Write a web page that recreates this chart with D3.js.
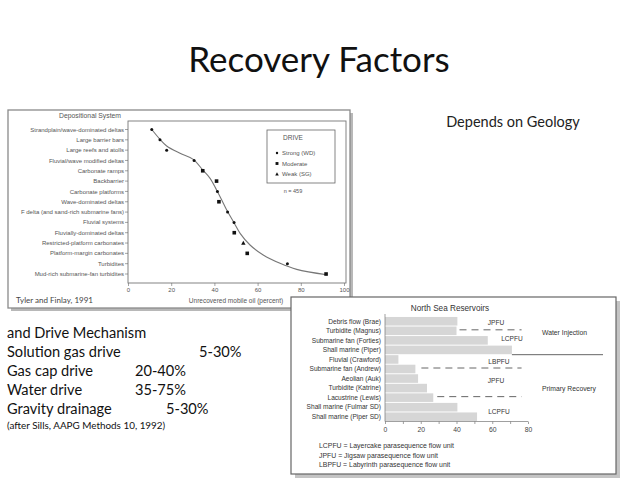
<!DOCTYPE html>
<html><head><meta charset="utf-8">
<script src="https://cdn.jsdelivr.net/npm/d3@7"></script>
<style>body{margin:0;background:#fff}svg{display:block}</style>
</head><body>
<svg id="c" width="640" height="480"></svg>
<script>
// ---------- data ----------
const depoSystems = ["Strandplain/wave-dominated deltas","Large barrier bars","Large reefs and atolls","Fluvial/wave modified deltas","Carbonate ramps","Backbarrier","Carbonate platforms","Wave-dominated deltas","F delta (and sand-rich submarine fans)","Fluvial systems","Fluvially-dominated deltas","Restricted-platform carbonates","Platform-margin carbonates","Turbidites","Mud-rich submarine-fan turbidites"];
const unrecovered = [11.0, 14.8, 17.9, 30.6, 34.6, 41.0, 41.4, 42.1, 46.1, 49.1, 49.2, 53.4, 55.2, 73.8, 91.7];
const driveType = ["Strong","Strong","Strong","Strong","Moderate","Moderate","Strong","Moderate","Strong","Strong","Moderate","Weak","Moderate","Strong","Moderate"];
const trendX = [11.0, 14.8, 17.9, 24.1, 30.2, 34.6, 38.0, 41.0, 43.4, 45.7, 48.8, 51.9, 56.5, 62.6, 70.4, 78.1, 92.0];
const trendY = [0, 0.95, 1.6, 2.31, 2.89, 3.92, 4.73, 5.86, 6.83, 7.8, 8.93, 10.06, 11.19, 12.16, 12.97, 13.55, 14.07];
const xTicksLeft = [0, 20, 40, 60, 80, 100];
const legendLabels = ["Strong (WD)", "Moderate", "Weak (SG)"];
const legendTypes = ["Strong", "Moderate", "Weak"];

const reservoirs = ["Debris flow (Brae)","Turbidite (Magnus)","Submarine fan (Forties)","Shall marine (Piper)","Fluvial (Crawford)","Submarine fan (Andrew)","Aeolian (Auk)","Turbidite (Katrine)","Lacustrine  (Lewis)","Shall marine (Fulmar SD)","Shall marine (Piper SD)"];
const recovery = [40.5, 40, 57.5, 71, 7.5, 17, 18.5, 23.5, 27, 40.5, 51.5];
const xTicksRight = [0, 20, 40, 60, 80];
const flowUnits = ["JPFU","LCPFU","LBPFU","JPFU","LCPFU"];
const recoveryGroups = ["Water Injection","Primary Recovery"];
const footnotes = ["LCPFU = Layercake parasequence flow unit","JPFU = Jigsaw parasequence flow unit","LBPFU = Labyrinth parasequence flow unit"];

const driveNames = ["and Drive Mechanism","Solution gas drive","Gas cap drive","Water drive","Gravity drainage"];
const driveRanges = ["","5-30%","20-40%","35-75%","5-30%"];

// ---------- drawing ----------
const svg = d3.select("#c");
const SANS = "'Liberation Sans', Arial, sans-serif";
const HUM = "Lato, 'Open Sans', sans-serif";

svg.append("text").attr("x", 319).attr("y", 72).attr("text-anchor","middle")
  .attr("font-family", HUM).attr("font-size", 35).attr("fill","#111").text("Recovery Factors");
svg.append("text").attr("x", 513).attr("y", 127).attr("text-anchor","middle")
  .attr("font-family", HUM).attr("font-size", 14.5).attr("fill","#222").text("Depends on Geology");

// ----- left panel -----
const L = svg.append("g");
L.append("rect").attr("x", 11).attr("y", 113).attr("width", 342).attr("height", 198).attr("fill","#b8b8b8");
L.append("rect").attr("x", 8).attr("y", 110).attr("width", 342).attr("height", 198).attr("fill","#fff")
  .attr("stroke","#8a8a8a").attr("stroke-width",1.3);

const xL = d3.scaleLinear().domain([0,100]).range([128,344]);
const yL = d3.scaleLinear().domain([0,14]).range([129.5,274]);

L.append("rect").attr("x",128).attr("y",121).attr("width",218).attr("height",162)
  .attr("fill","none").attr("stroke","#777").attr("stroke-width",0.9);

L.append("text").attr("x",90).attr("y",118).attr("text-anchor","middle").attr("font-family",SANS)
  .attr("font-size",6.8).attr("fill","#555").text("Depositional System");

const yAxisL = L.append("g");
depoSystems.forEach((d,i)=>{
  yAxisL.append("text").attr("x",124).attr("y",yL(i)).attr("dy","0.35em").attr("text-anchor","end")
    .attr("font-family",SANS).attr("font-size",6).attr("fill","#555").text(d);
  yAxisL.append("line").attr("x1",125).attr("x2",128).attr("y1",yL(i)).attr("y2",yL(i)).attr("stroke","#666").attr("stroke-width",0.6);
});
const xAxisL = d3.axisBottom(xL).tickValues(xTicksLeft).tickSize(3).tickPadding(2);
L.append("g").attr("transform","translate(0,283)").call(xAxisL)
  .call(g=>{g.select(".domain").remove();g.selectAll("line").attr("stroke","#666").attr("stroke-width",0.6);
    g.selectAll("text").attr("font-family",SANS).attr("font-size",6).attr("fill","#555");});

L.append("text").attr("x",16).attr("y",303).attr("font-family",HUM).attr("font-size",8).attr("fill","#444").text("Tyler and Finlay, 1991");
L.append("text").attr("x",236).attr("y",303).attr("text-anchor","middle").attr("font-family",SANS)
  .attr("font-size",6.5).attr("fill","#555").text("Unrecovered mobile oil (percent)");

const line = d3.line().x(d=>xL(d[0])).y(d=>yL(d[1])).curve(d3.curveCatmullRom);
L.append("path").attr("d", line(trendX.map((x,i)=>[x,trendY[i]]))).attr("fill","none")
  .attr("stroke","#777").attr("stroke-width",1.1);

function marker(g, type, x, y, s){
  if(type==="Strong") g.append("circle").attr("cx",x).attr("cy",y).attr("r",1.5*s).attr("fill","#111");
  else if(type==="Moderate") g.append("rect").attr("x",x-1.8*s).attr("y",y-1.8*s).attr("width",3.6*s).attr("height",3.6*s).attr("fill","#111");
  else g.append("path").attr("d",`M${x},${y-2.2*s}L${x+2.2*s},${y+1.8*s}L${x-2.2*s},${y+1.8*s}Z`).attr("fill","#111");
}
unrecovered.forEach((v,i)=>marker(L, driveType[i], xL(v), yL(i), 1));

// legend
L.append("rect").attr("x",267).attr("y",130).attr("width",68).attr("height",53).attr("fill","#fff")
  .attr("stroke","#666").attr("stroke-width",0.8);
L.append("text").attr("x",293).attr("y",138).attr("dy","0.35em").attr("text-anchor","middle").attr("font-family",SANS)
  .attr("font-size",6.5).attr("fill","#555").text("DRIVE");
legendLabels.forEach((d,i)=>{
  const y = 153 + i*10.5;
  marker(L, legendTypes[i], 277, y, 0.8);
  L.append("text").attr("x",282).attr("y",y).attr("dy","0.35em").attr("font-family",SANS)
    .attr("font-size",6).attr("fill","#555").text(d);
});
L.append("text").attr("x",293).attr("y",191).attr("dy","0.35em").attr("text-anchor","middle").attr("font-family",SANS)
  .attr("font-size",5.5).attr("fill","#555").text("n = 459");

// ----- text block -----
const T = svg.append("g").attr("font-family",HUM).attr("fill","#111");
const rangeX = [0,199,135,135,166];
driveNames.forEach((d,i)=>{
  const y = 338 + i*19;
  T.append("text").attr("x",7).attr("y",y).attr("font-size",14.6).text(d);
  if(driveRanges[i]) T.append("text").attr("x",rangeX[i]).attr("y",y).attr("font-size",14.6).text(driveRanges[i]);
});
T.append("text").attr("x",7).attr("y",429).attr("font-size",9.9).text("(after Sills, AAPG Methods 10, 1992)");

// ----- North Sea panel -----
const R = svg.append("g");
R.append("rect").attr("x",295).attr("y",301).attr("width",325).attr("height",177).attr("fill","#c4c4c4");
R.append("rect").attr("x",291).attr("y",297).attr("width",325).attr("height",177).attr("fill","#fff")
  .attr("stroke","#666").attr("stroke-width",1.2);
R.append("text").attr("x",450).attr("y",308).attr("dy","0.35em").attr("text-anchor","middle").attr("font-family",SANS)
  .attr("font-size",8.2).attr("fill","#333").text("North Sea Reservoirs");

const xR = d3.scaleLinear().domain([0,80]).range([385,528]);
const yR = d3.scaleBand().domain(reservoirs).range([316.5,421.5]).paddingInner(0.1).paddingOuter(0.05);

R.selectAll("rect.bar").data(reservoirs).join("rect").attr("class","bar")
  .attr("x",xR(0)).attr("y",d=>yR(d)).attr("height",yR.bandwidth())
  .attr("width",(d,i)=>xR(recovery[i])-xR(0)).attr("fill","#d6d6d6");

R.append("line").attr("x1",385).attr("x2",385).attr("y1",314).attr("y2",421.5).attr("stroke","#777").attr("stroke-width",0.7);
reservoirs.forEach(d=>{
  R.append("text").attr("x",381).attr("y",yR(d)+yR.bandwidth()/2).attr("dy","0.35em").attr("text-anchor","end")
    .attr("font-family",SANS).attr("font-size",6.6).attr("fill","#333").text(d);
});
const xAxisR = d3.axisBottom(xR).tickValues(d3.range(0,81,10)).tickSize(2.5).tickPadding(3)
  .tickFormat(d=>xTicksRight.includes(d)?d:"");
R.append("g").attr("transform","translate(0,421.5)").call(xAxisR)
  .call(g=>{g.select(".domain").attr("stroke","#777").attr("stroke-width",0.7).attr("d","M385,0H528");
    g.selectAll("line").attr("stroke","#777").attr("stroke-width",0.7);
    g.selectAll("text").attr("font-family",SANS).attr("font-size",6.8).attr("fill","#444");});

// flow unit annotations
const mid = d=>yR(d)+yR.bandwidth()/2;
const dashSpecs = [[1, xR(recovery[1])+3], [5, xR(recovery[5])+6], [8, xR(recovery[8])+4]];
dashSpecs.forEach(([i,x0])=>{
  R.append("line").attr("x1",x0).attr("x2",xR(76.4)).attr("y1",mid(reservoirs[i])-1).attr("y2",mid(reservoirs[i])-1)
    .attr("stroke","#555").attr("stroke-width",0.9).attr("stroke-dasharray","7,5");
});
const boundary = yR(reservoirs[4]) - yR.step()*0.05;
R.append("line").attr("x1",xR(recovery[3])).attr("x2",603).attr("y1",boundary).attr("y2",boundary)
  .attr("stroke","#555").attr("stroke-width",0.9);

const fuPos = [[496, mid(reservoirs[0])+1.5],[512, mid(reservoirs[2])-1.5],[499, mid(reservoirs[4])+2],[496, mid(reservoirs[6])+2.5],[499, yR(reservoirs[10])-1]];
flowUnits.forEach((d,i)=>{
  R.append("text").attr("x",fuPos[i][0]).attr("y",fuPos[i][1]).attr("dy","0.35em").attr("text-anchor","middle")
    .attr("font-family",SANS).attr("font-size",6.6).attr("fill","#333").text(d);
});
R.append("text").attr("x",542).attr("y",333).attr("dy","0.35em").attr("font-family",SANS).attr("font-size",6.8).attr("fill","#333").text(recoveryGroups[0]);
R.append("text").attr("x",542).attr("y",389).attr("dy","0.35em").attr("font-family",SANS).attr("font-size",6.8).attr("fill","#333").text(recoveryGroups[1]);

footnotes.forEach((d,i)=>{
  R.append("text").attr("x",319).attr("y",445.7+i*9.5).attr("dy","0.35em").attr("font-family",SANS)
    .attr("font-size",6.9).attr("fill","#333").text(d);
});
</script>
</body></html>
